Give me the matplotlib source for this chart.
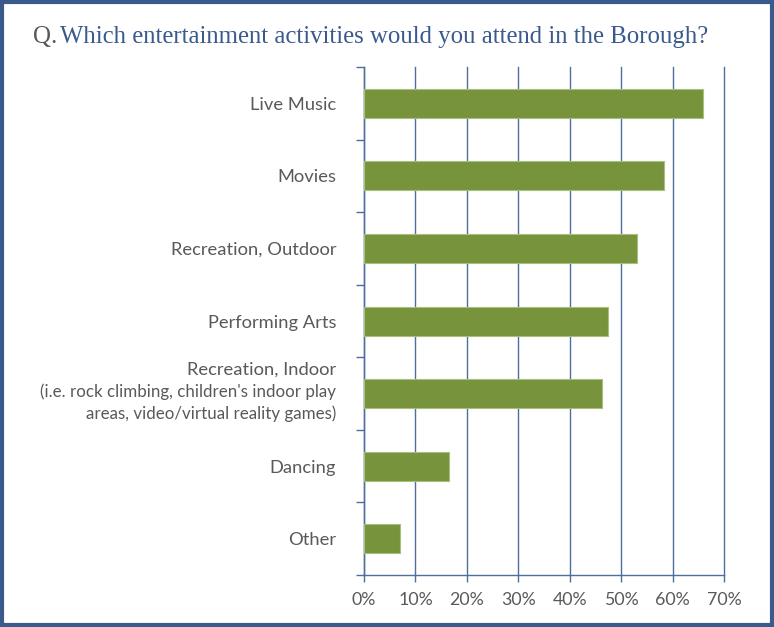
import matplotlib.pyplot as plt
from matplotlib.patches import Rectangle
from matplotlib.ticker import FixedLocator, MultipleLocator, PercentFormatter

activities = [
    "Live Music",
    "Movies",
    "Recreation, Outdoor",
    "Performing Arts",
    "Recreation, Indoor",
    "Dancing",
    "Other",
]
# smaller second part of the indoor recreation label
indoor_note = "(i.e. rock climbing, children's indoor play\nareas, video/virtual reality games)"
shares = [66.0, 58.4, 53.0, 47.5, 46.3, 16.5, 7.0]

blue = "#3b5a8c"
grid_blue = "#4f6e9e"
text_grey = "#595959"
green = "#77933c"

fig = plt.figure(figsize=(7.74, 6.27), dpi=100)
ax = fig.add_axes([0.4703, 0.0829, 0.4651, 0.8102])

y = list(range(len(activities)))
ax.barh(y, shares, height=0.4, color=green, edgecolor="#a9bf7f", linewidth=0.8, zorder=3)

ax.set_xlim(0, 70)
ax.set_ylim(len(activities) - 0.5, -0.5)
ax.xaxis.set_major_locator(MultipleLocator(10))
ax.xaxis.set_major_formatter(PercentFormatter(decimals=0))
ax.grid(axis="x", color=grid_blue, linewidth=1.0, zorder=0)
for gl in ax.get_xgridlines():
    gl.set_clip_on(False)

indoor = activities.index("Recreation, Indoor")
tick_labels = ["" if i == indoor else a for i, a in enumerate(activities)]
ax.set_yticks(y)
ax.set_yticklabels(tick_labels, fontfamily="Lato", fontsize=13.2, color=text_grey)
ax.annotate(activities[indoor], xy=(0, indoor), xycoords=("axes fraction", "data"),
            xytext=(-20, 17.3), textcoords="offset points", ha="right", va="center",
            fontfamily="Lato", fontsize=13.2, color=text_grey)
ax.annotate(indoor_note, xy=(0, indoor), xycoords=("axes fraction", "data"),
            xytext=(-20, -6.8), textcoords="offset points", ha="right", va="center",
            fontfamily="Lato", fontsize=12.2, color=text_grey, linespacing=1.4)

ax.yaxis.set_minor_locator(FixedLocator([i - 0.5 for i in range(len(activities) + 1)]))
ax.tick_params(axis="y", which="major", length=0, pad=20)
ax.tick_params(axis="y", which="minor", length=6, width=1, color=grid_blue)
ax.tick_params(axis="x", length=5, width=1, color=grid_blue, labelsize=12.8,
               labelcolor=text_grey, pad=7)
for lab in ax.get_xticklabels():
    lab.set_fontfamily("Lato")

for side in ("top", "right"):
    ax.spines[side].set_visible(False)
for side in ("left", "bottom"):
    ax.spines[side].set_color(grid_blue)
    ax.spines[side].set_linewidth(1.0)

# question heading: grey "Q." then the blue question
fig.text(33 / 774, 1 - 37 / 627, "Q.", fontfamily="Liberation Serif", fontsize=18,
         color=text_grey, va="center", ha="left")
fig.text(60 / 774, 1 - 37 / 627, "Which entertainment activities would you attend in the Borough?",
         fontfamily="Liberation Serif", fontsize=17.8, color=blue, va="center", ha="left")

# outer frame
fig.patches.append(Rectangle((0.002, 0.003), 0.995, 0.994, transform=fig.transFigure,
                             fill=False, edgecolor=blue, linewidth=3))

fig.savefig("out.png", dpi=100)
